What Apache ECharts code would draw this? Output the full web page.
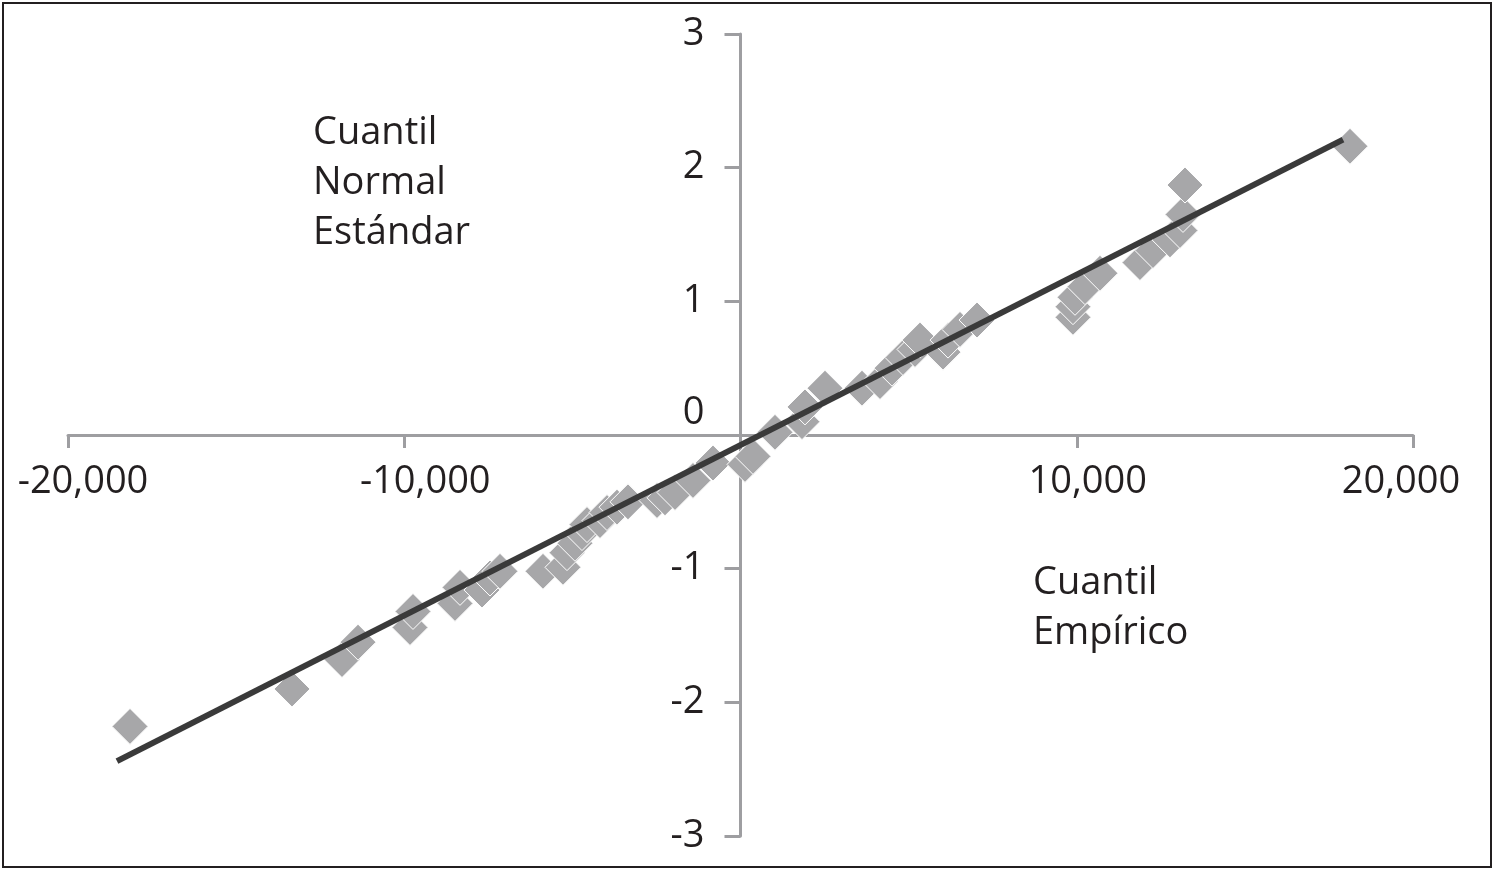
<!DOCTYPE html>
<html>
<head>
<meta charset="utf-8">
<script src="https://cdn.jsdelivr.net/npm/echarts@6/dist/echarts.min.js"></script>
<style>
html,body{margin:0;padding:0;background:#fff;}
#chart{width:1494px;height:872px;}
</style>
</head>
<body>
<div id="chart"></div>
<script>
const empiricalQ = [-18156,-13338,-11851,-11375,-9829,-9740,-8491,-8342,-7688,-7450,-7152,
  -5874,-5279,-5160,-4922,-4714,-4565,-4178,-3970,-3673,-3346,-2483,-2245,-1948,-1413,-818,
  134,372,1026,1829,1918,2513,3613,4149,4506,4833,5190,5339,6023,6172,6528,7034,
  9888,9888,9948,10245,10691,11880,12267,12773,13070,13160,13219,18126];
const normalQ = [-2.18,-1.90,-1.68,-1.55,-1.44,-1.32,-1.26,-1.14,-1.16,-1.07,-1.02,
  -1.02,-0.99,-0.88,-0.81,-0.73,-0.67,-0.64,-0.58,-0.54,-0.50,-0.49,-0.47,-0.43,-0.34,-0.21,
  -0.22,-0.16,0.02,0.10,0.21,0.35,0.35,0.40,0.50,0.58,0.64,0.71,0.62,0.71,0.79,0.86,
  0.88,0.96,1.03,1.11,1.21,1.29,1.38,1.46,1.53,1.65,1.87,2.16];
// Fitted line end points
const lineX = [-18543, 17918];
const lineY = [-2.44, 2.21];
// Tick labels
const xTickValues = [-20000, -10000, 0, 10000, 20000];
const xTickLabels = ['-20,000', '-10,000', '', '10,000', '20,000'];
const yTickValues = [-3, -2, -1, 0, 1, 2, 3];
const yTickLabels = ['-3', '-2', '-1', '0', '1', '2', '3'];
const labelTopLeft = 'Cuantil\nNormal\nEstándar';
const labelBottomRight = 'Cuantil\nEmpírico';

const FONT = '"Open Sans", "Noto Sans", sans-serif';
const TXT = '#231f20';
const AXIS = '#9e9ea1';

const scatterData = empiricalQ.map((x, i) => [x, normalQ[i]]);
const lineData = lineX.map((x, i) => [x, lineY[i]]);

const xShift = {'-20000': 'a', '-10000': 'b', '10000': 'c', '20000': 'd'};

const GL = 68, GR = 81, GT = 34, GB = 36, W = 1494, H = 872;
const gw = W - GL - GR, gh = H - GT - GB;

const chart = echarts.init(document.getElementById('chart'));
chart.setOption({
  animation: false,
  backgroundColor: '#ffffff',
  grid: {left: GL, right: GR, top: GT, bottom: GB, containLabel: false, outerBoundsMode: 'none'},
  xAxis: {
    type: 'value', min: -20000, max: 20000, interval: 10000,
    position: 'bottom', offset: -gh / 2,
    axisLine: {show: true, onZero: false, lineStyle: {color: AXIS, width: 3}},
    axisTick: {show: true, inside: false, length: 13, lineStyle: {color: AXIS, width: 3}},
    splitLine: {show: false},
    axisLabel: {
      show: true, margin: 28, color: TXT, fontFamily: FONT, fontSize: 38,
      formatter: function (v) {
        const idx = xTickValues.indexOf(v);
        const t = idx >= 0 ? xTickLabels[idx] : '';
        if (!t) return '';
        return '{' + xShift[String(v)] + '|' + t + '}';
      },
      rich: {
        a: {fontFamily: FONT, fontSize: 38, color: TXT, padding: [0, 0, 0, 30]},
        b: {fontFamily: FONT, fontSize: 38, color: TXT, padding: [0, 0, 0, 42]},
        c: {fontFamily: FONT, fontSize: 38, color: TXT, padding: [0, 0, 0, 22]},
        d: {fontFamily: FONT, fontSize: 38, color: TXT, padding: [0, 24, 0, 0]}
      }
    }
  },
  yAxis: {
    type: 'value', min: -3, max: 3, interval: 1,
    position: 'left', offset: -gw / 2,
    axisLine: {show: true, onZero: false, lineStyle: {color: AXIS, width: 3}},
    axisTick: {show: true, inside: false, length: 16, lineStyle: {color: AXIS, width: 3}},
    splitLine: {show: false},
    axisLabel: {
      show: true, margin: 36, color: TXT, fontFamily: FONT, fontSize: 38,
      formatter: function (v) {
        const idx = yTickValues.indexOf(v);
        const t = idx >= 0 ? yTickLabels[idx] : '';
        if (v === 0) return '{z|' + t + '}';
        return '{n|' + t + '}';
      },
      rich: {
        n: {fontFamily: FONT, fontSize: 38, color: TXT},
        z: {fontFamily: FONT, fontSize: 38, color: TXT, padding: [0, 0, 44, 0]}
      }
    }
  },
  series: [
    {
      type: 'scatter', data: scatterData, symbol: 'diamond', symbolSize: 36,
      itemStyle: {color: '#a7a7a9', borderColor: '#ffffff', borderWidth: 1, opacity: 1},
      z: 2
    },
    {
      type: 'line', data: lineData, symbol: 'none',
      lineStyle: {color: '#3a3a3a', width: 6},
      z: 3
    }
  ],
  graphic: [
    {type: 'rect', shape: {x: 3, y: 3, width: 1488, height: 864},
      style: {fill: 'none', stroke: '#231f20', lineWidth: 2}, silent: true},
    {type: 'text', x: 313, y: 108,
      style: {text: labelTopLeft, fontFamily: FONT, fontSize: 38, lineHeight: 50, fill: TXT, verticalAlign: 'top'}},
    {type: 'text', x: 1033, y: 558,
      style: {text: labelBottomRight, fontFamily: FONT, fontSize: 38, lineHeight: 50, fill: TXT, verticalAlign: 'top'}}
  ]
});
</script>
</body>
</html>
